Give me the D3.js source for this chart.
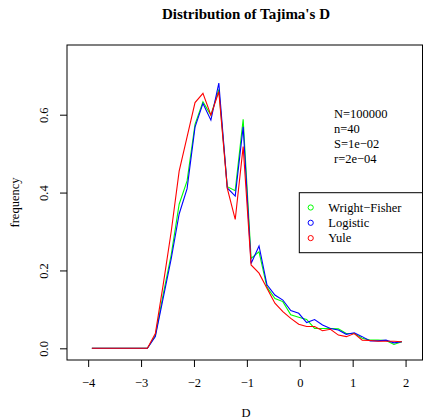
<!DOCTYPE html>
<html>
<head>
<meta charset="utf-8">
<script src="https://cdnjs.cloudflare.com/ajax/libs/d3/7.8.5/d3.min.js"></script>
<style>
  body { margin: 0; background: #fff; }
  svg { display: block; font-family: "Liberation Serif", "Times New Roman", serif; }
</style>
</head>
<body>
<svg width="423" height="419"></svg>
<script>
// bin centres of Tajima's D
var dVals = [-3.93, -3.78, -3.63, -3.48, -3.33, -3.18, -3.03, -2.88, -2.73, -2.58,
             -2.43, -2.28, -2.13, -1.98, -1.83, -1.68, -1.53, -1.37, -1.22, -1.07,
             -0.92, -0.77, -0.62, -0.47, -0.32, -0.17, -0.02, 0.13, 0.28, 0.43,
             0.58, 0.73, 0.88, 1.03, 1.18, 1.33, 1.48, 1.63, 1.78, 1.93];

var wrightFisher = [0, 0, 0, 0, 0, 0, 0, 0, 0.033, 0.14,
                    0.24, 0.37, 0.43, 0.575, 0.633, 0.599, 0.665, 0.415, 0.405, 0.588,
                    0.231, 0.248, 0.157, 0.128, 0.120, 0.086, 0.080, 0.074, 0.051, 0.051,
                    0.051, 0.050, 0.038, 0.038, 0.026, 0.021, 0.021, 0.020, 0.010, 0.017];

var logistic = [0, 0, 0, 0, 0, 0, 0, 0, 0.030, 0.13,
                0.23, 0.345, 0.41, 0.568, 0.629, 0.586, 0.681, 0.412, 0.391, 0.569,
                0.218, 0.263, 0.163, 0.137, 0.124, 0.097, 0.090, 0.066, 0.074, 0.060,
                0.051, 0.047, 0.036, 0.040, 0.030, 0.019, 0.019, 0.021, 0.014, 0.017];

var yule = [0, 0, 0, 0, 0, 0, 0, 0, 0.038, 0.165,
            0.30, 0.455, 0.543, 0.631, 0.655, 0.599, 0.659, 0.411, 0.331, 0.518,
            0.214, 0.193, 0.154, 0.116, 0.094, 0.077, 0.062, 0.056, 0.056, 0.045,
            0.049, 0.034, 0.030, 0.038, 0.021, 0.020, 0.018, 0.018, 0.018, 0.017];

var seriesNames = ["Wright\u2212Fisher", "Logistic", "Yule"];
var seriesColors = ["#00ff00", "#0000ff", "#ff0000"];
var xTicks = [-4, -3, -2, -1, 0, 1, 2];
var yTicks = [0, 0.2, 0.4, 0.6];
var paramLines = ["N=100000", "n=40", "S=1e\u221202", "r=2e\u221204"];

var svg = d3.select("svg"),
    box = { left: 67, right: 422.5, top: 45, bottom: 360 };

var x = d3.scaleLinear().domain([-4.4, 2.32]).range([box.left, box.right]),
    y = d3.scaleLinear().domain([-0.030, 0.779]).range([box.bottom, box.top]);

var fmtX = d3.format("d"),
    fmtY = d3.format(".1f");

// title
svg.append("text")
    .attr("x", 246)
    .attr("y", 19)
    .attr("text-anchor", "middle")
    .attr("font-weight", "bold")
    .attr("font-size", 15)
    .text("Distribution of Tajima's D");

// x axis
var xAxis = svg.append("g")
    .attr("transform", "translate(0," + box.bottom + ")")
    .call(d3.axisBottom(x).tickValues(xTicks).tickFormat(fmtX).tickSize(7).tickSizeOuter(0));
xAxis.select(".domain").remove();
xAxis.selectAll("text")
    .attr("y", 23.3)
    .attr("dy", "0.32em")
    .attr("font-size", 12.5)
    .attr("font-family", "Liberation Serif, serif");

// y axis
var yAxis = svg.append("g")
    .attr("transform", "translate(" + box.left + ",0)")
    .call(d3.axisLeft(y).tickValues(yTicks).tickFormat(fmtY).tickSize(7).tickSizeOuter(0));
yAxis.select(".domain").remove();
yAxis.selectAll("text")
    .attr("x", null)
    .attr("text-anchor", "middle")
    .attr("dy", "0.32em")
    .attr("transform", "translate(-23,0) rotate(-90)")
    .attr("font-size", 12.5)
    .attr("font-family", "Liberation Serif, serif");

// axis titles
svg.append("text")
    .attr("x", 246)
    .attr("y", 413)
    .attr("dy", "0.32em")
    .attr("text-anchor", "middle")
    .attr("font-size", 12.5)
    .text("D");

svg.append("text")
    .attr("transform", "translate(15," + ((box.top + box.bottom) / 2) + ") rotate(-90)")
    .attr("dy", "0.32em")
    .attr("text-anchor", "middle")
    .attr("font-size", 12.5)
    .text("frequency");

// lines
var line = d3.line()
    .x(function(d, i) { return x(dVals[i]); })
    .y(function(d) { return y(d); });

[wrightFisher, logistic, yule].forEach(function(s, i) {
    svg.append("path")
        .datum(s)
        .attr("fill", "none")
        .attr("stroke", seriesColors[i])
        .attr("stroke-width", 1.1)
        .attr("d", line);
});

// plot box
svg.append("rect")
    .attr("x", box.left)
    .attr("y", box.top)
    .attr("width", box.right - box.left)
    .attr("height", box.bottom - box.top)
    .attr("fill", "none")
    .attr("stroke", "#000");

// parameter text
svg.append("g").selectAll("text")
    .data(paramLines)
    .enter().append("text")
    .attr("x", 334)
    .attr("y", function(d, i) { return 118 + i * 15; })
    .attr("font-size", 12.5)
    .text(function(d) { return d; });

// legend
var legend = svg.append("g");
legend.append("rect")
    .attr("x", 299.3)
    .attr("y", 192.7)
    .attr("width", box.right - 299.3)
    .attr("height", 60)
    .attr("fill", "#fff")
    .attr("stroke", "#000");

var rows = legend.selectAll(".row")
    .data(seriesNames)
    .enter().append("g")
    .attr("class", "row")
    .attr("transform", function(d, i) { return "translate(0," + (207.5 + i * 15.3) + ")"; });

rows.append("circle")
    .attr("cx", 310.7)
    .attr("r", 2.6)
    .attr("fill", "none")
    .attr("stroke", function(d, i) { return seriesColors[i]; });

rows.append("text")
    .attr("x", 328.3)
    .attr("dy", "0.32em")
    .attr("font-size", 12.5)
    .text(function(d) { return d; });
</script>
</body>
</html>
